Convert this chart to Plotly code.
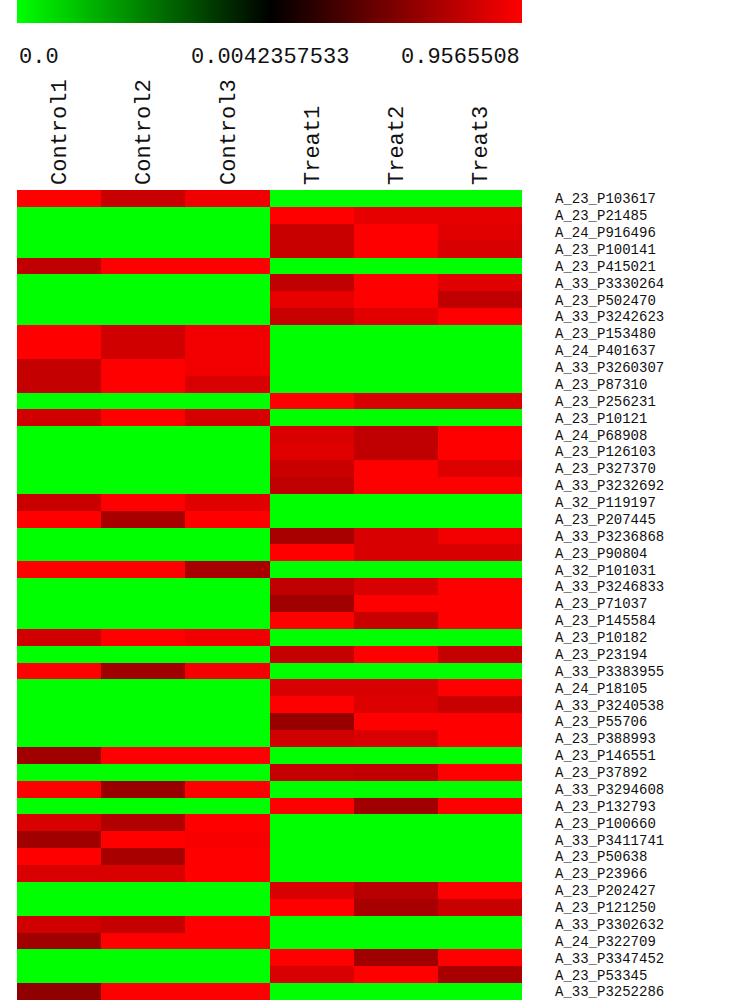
import plotly.graph_objects as go

# ---------------- data ----------------
samples = ["Control1", "Control2", "Control3", "Treat1", "Treat2", "Treat3"]

genes = [
    "A_23_P103617", "A_23_P21485", "A_24_P916496", "A_23_P100141", "A_23_P415021",
    "A_33_P3330264", "A_23_P502470", "A_33_P3242623", "A_23_P153480", "A_24_P401637",
    "A_33_P3260307", "A_23_P87310", "A_23_P256231", "A_23_P10121", "A_24_P68908",
    "A_23_P126103", "A_23_P327370", "A_33_P3232692", "A_32_P119197", "A_23_P207445",
    "A_33_P3236868", "A_23_P90804", "A_32_P101031", "A_33_P3246833", "A_23_P71037",
    "A_23_P145584", "A_23_P10182", "A_23_P23194", "A_33_P3383955", "A_24_P18105",
    "A_33_P3240538", "A_23_P55706", "A_23_P388993", "A_23_P146551", "A_23_P37892",
    "A_33_P3294608", "A_23_P132793", "A_23_P100660", "A_33_P3411741", "A_23_P50638",
    "A_23_P23966", "A_23_P202427", "A_23_P121250", "A_33_P3302632", "A_24_P322709",
    "A_33_P3347452", "A_23_P53345", "A_33_P3252286",
]

values = [
    [0.957, 0.751, 0.900, 0, 0, 0],
    [0, 0, 0, 0.957, 0.863, 0.863],
    [0, 0, 0, 0.751, 0.957, 0.841],
    [0, 0, 0, 0.751, 0.957, 0.811],
    [0.721, 0.957, 0.957, 0, 0, 0],
    [0, 0, 0, 0.721, 0.957, 0.841],
    [0, 0, 0, 0.871, 0.957, 0.721],
    [0, 0, 0, 0.751, 0.841, 0.957],
    [0.957, 0.781, 0.908, 0, 0, 0],
    [0.957, 0.781, 0.908, 0, 0, 0],
    [0.736, 0.957, 0.908, 0, 0, 0],
    [0.736, 0.957, 0.811, 0, 0, 0],
    [0, 0, 0, 0.957, 0.811, 0.811],
    [0.781, 0.957, 0.800, 0, 0, 0],
    [0, 0, 0, 0.811, 0.721, 0.957],
    [0, 0, 0, 0.841, 0.721, 0.957],
    [0, 0, 0, 0.751, 0.957, 0.830],
    [0, 0, 0, 0.721, 0.957, 0.957],
    [0.751, 0.957, 0.841, 0, 0, 0],
    [0.957, 0.632, 0.957, 0, 0, 0],
    [0, 0, 0, 0.632, 0.811, 0.908],
    [0, 0, 0, 0.957, 0.811, 0.811],
    [0.957, 0.957, 0.632, 0, 0, 0],
    [0, 0, 0, 0.721, 0.811, 0.957],
    [0, 0, 0, 0.602, 0.957, 0.957],
    [0, 0, 0, 0.957, 0.751, 0.957],
    [0.781, 0.957, 0.900, 0, 0, 0],
    [0, 0, 0, 0.736, 0.957, 0.736],
    [0.957, 0.602, 0.919, 0, 0, 0],
    [0, 0, 0, 0.811, 0.811, 0.957],
    [0, 0, 0, 0.957, 0.830, 0.751],
    [0, 0, 0, 0.572, 0.957, 0.957],
    [0, 0, 0, 0.781, 0.811, 0.957],
    [0.602, 0.957, 0.957, 0, 0, 0],
    [0, 0, 0, 0.736, 0.721, 0.957],
    [0.957, 0.572, 0.957, 0, 0, 0],
    [0, 0, 0, 0.957, 0.602, 0.957],
    [0.811, 0.662, 0.957, 0, 0, 0],
    [0.602, 0.957, 0.930, 0, 0, 0],
    [0.957, 0.632, 0.957, 0, 0, 0],
    [0.811, 0.811, 0.957, 0, 0, 0],
    [0, 0, 0, 0.811, 0.691, 0.957],
    [0, 0, 0, 0.957, 0.632, 0.751],
    [0.781, 0.736, 0.957, 0, 0, 0],
    [0.602, 0.957, 0.957, 0, 0, 0],
    [0, 0, 0, 0.957, 0.602, 0.957],
    [0, 0, 0, 0.811, 0.957, 0.632],
    [0.542, 0.957, 0.957, 0, 0, 0],
]

legend_values = [0.0, 0.0042357533, 0.9565508]
legend_labels = ["0.0", "0.0042357533", "0.9565508"]
legend_positions = [0.0, 0.5, 1.0]

# ---------------- styling ----------------
W, H = 754, 1002
x0_px, x1_px = 17, 522
heat_top_px, heat_bot_px = 190, 1000
bar_top_px, bar_bot_px = 0, 23

vmin, vmid, vmax = legend_values
colorscale = [
    [0.0, "rgb(0,255,0)"],
    [vmid / vmax, "rgb(0,0,0)"],
    [1.0, "rgb(255,0,0)"],
]

mono = "Liberation Mono"

fig = go.Figure()

fig.add_trace(go.Heatmap(
    z=values, x=samples, y=genes,
    colorscale=colorscale, zmin=vmin, zmax=vmax,
    showscale=False, hoverinfo="x+y+z",
    xaxis="x", yaxis="y",
))

# colour key bar (interpolated between the three key values)
fig.add_trace(go.Heatmap(
    z=[legend_values], x=legend_positions, y=[0],
    colorscale=colorscale, zmin=vmin, zmax=vmax,
    zsmooth="best", showscale=False, hoverinfo="skip",
    xaxis="x2", yaxis="y2",
))

xd = [x0_px / W, x1_px / W]
fig.update_layout(
    width=W, height=H,
    margin=dict(l=0, r=0, t=0, b=0),
    paper_bgcolor="white", plot_bgcolor="white",
    showlegend=False,
    xaxis=dict(
        domain=xd, anchor="y", side="top",
        tickangle=-90, tickfont=dict(family=mono, size=22, color="#111"),
        showgrid=False, zeroline=False, ticks="", ticklabelstandoff=4,
        tickmode="array", tickvals=samples, ticktext=samples,
    ),
    yaxis=dict(
        domain=[1 - heat_bot_px / H, 1 - heat_top_px / H], anchor="x",
        side="right", autorange="reversed",
        tickfont=dict(family=mono, size=14, color="#111"),
        showgrid=False, zeroline=False, ticks="", ticklabelstandoff=32,
        tickmode="array", tickvals=genes, ticktext=genes,
    ),
    xaxis2=dict(domain=xd, anchor="y2", range=[0, 1], visible=False),
    yaxis2=dict(domain=[1 - bar_bot_px / H, 1 - bar_top_px / H], anchor="x2",
                range=[-0.5, 0.5], visible=False),
)

anchors = ["left", "center", "right"]
for lab, pos, anc in zip(legend_labels, legend_positions, anchors):
    fig.add_annotation(
        x=pos, xref="x2 domain", y=1 - 58 / H, yref="paper",
        text=lab, showarrow=False, xanchor=anc, yanchor="middle",
        font=dict(family=mono, size=22, color="#111"),
    )

fig.write_html(
    "out.html",
    config={"displayModeBar": False},
    post_script="document.body.style.margin='0';document.body.style.overflow='hidden';",
)
